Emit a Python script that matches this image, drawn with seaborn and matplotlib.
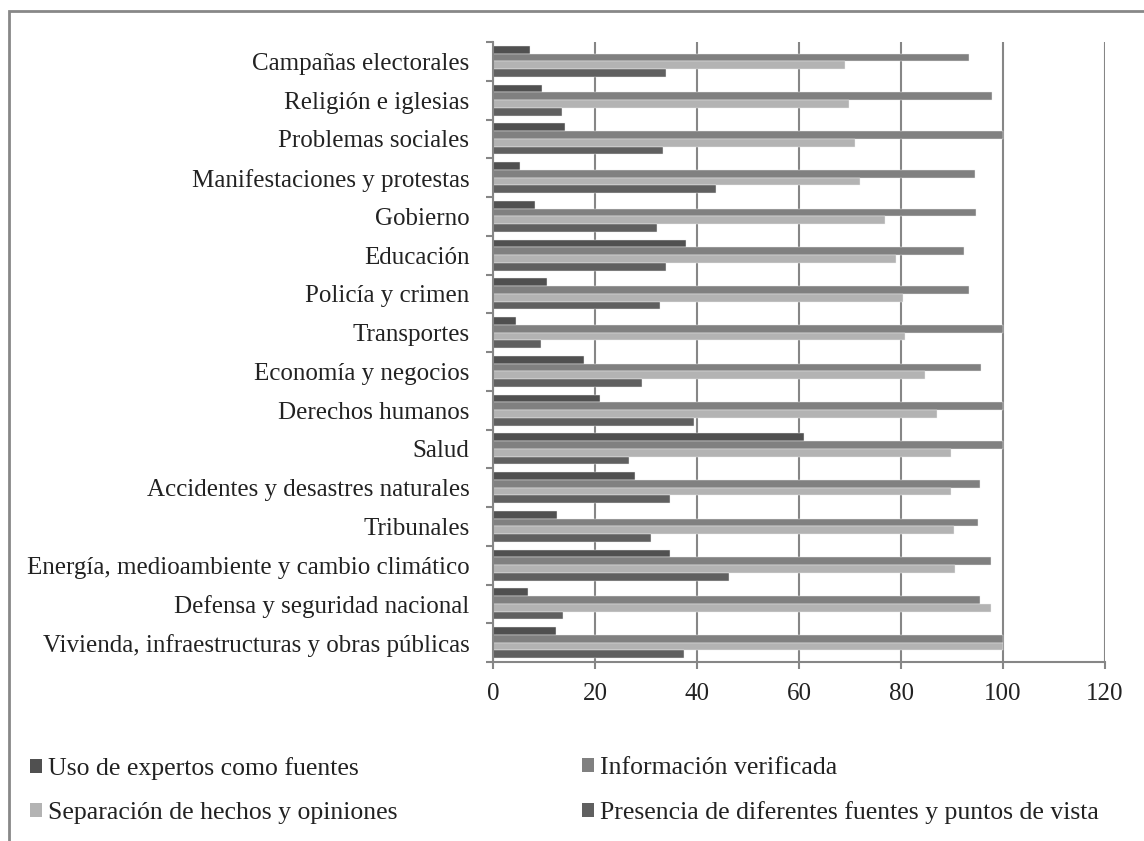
import numpy as np
import pandas as pd
import matplotlib
matplotlib.use("Agg")
import matplotlib.pyplot as plt
import seaborn as sns
from matplotlib.patches import Rectangle, Patch

categories = [
    "Campañas electorales", "Religión e iglesias", "Problemas sociales",
    "Manifestaciones y protestas", "Gobierno", "Educación", "Policía y crimen",
    "Transportes", "Economía y negocios", "Derechos humanos", "Salud",
    "Accidentes y desastres naturales", "Tribunales",
    "Energía, medioambiente y cambio climático", "Defensa y seguridad nacional",
    "Vivienda, infraestructuras y obras públicas",
]
series_names = [
    "Uso de expertos como fuentes", "Información verificada",
    "Separación de hechos y opiniones", "Presencia de diferentes fuentes y puntos de vista",
]
expertos = [7.3, 9.6, 14.2, 5.2, 8.3, 37.8, 10.6, 4.6, 17.8, 21.0, 61.0, 27.8, 12.6, 34.7, 6.9, 12.4]
verificada = [93.3, 97.9, 100, 94.6, 94.8, 92.4, 93.3, 100, 95.6, 100, 100, 95.4, 95.1, 97.7, 95.4, 100]
separacion = [69.0, 69.8, 70.9, 71.9, 76.8, 79.1, 80.4, 80.8, 84.8, 87.0, 89.8, 89.8, 90.3, 90.5, 97.7, 100]
presencia = [33.9, 13.6, 33.3, 43.8, 32.2, 33.9, 32.8, 9.4, 29.2, 39.4, 26.6, 34.7, 30.9, 46.3, 13.8, 37.4]
xticks = [0, 20, 40, 60, 80, 100, 120]

colors = ["#505050", "#808080", "#b3b3b3", "#606060"]

rows = []
for s, vals in zip(series_names, [expertos, verificada, separacion, presencia]):
    for c, v in zip(categories, vals):
        rows.append({"cat": c, "serie": s, "val": v})
df = pd.DataFrame(rows)

sns.set_theme(style="white")
plt.rcParams["font.family"] = ["Liberation Serif", "DejaVu Serif"]

FS = 18
fig = plt.figure(figsize=(11.44, 8.41), dpi=100)
ax = fig.add_axes([493/1144, 1-662/841, (1105-493)/1144, (662-42)/841])

sns.barplot(data=df, y="cat", x="val", hue="serie", order=categories,
            hue_order=series_names, palette=colors, orient="h", width=0.8,
            ax=ax, legend=False, edgecolor="#f0f0f0", linewidth=0.3, saturation=1)

ax.set_xlim(0, 120)
ax.set_ylim(len(categories) - 0.5, -0.5)
ax.set_xticks(xticks)
ax.set_xticklabels([str(t) for t in xticks], fontsize=FS, color="#222222")
ax.set_yticks(range(len(categories)))
ax.set_yticklabels(categories, fontsize=FS, color="#222222")
ax.set_yticks(np.arange(-0.5, len(categories) + 0.5, 1), minor=True)
ax.tick_params(axis="y", which="major", length=0, pad=17)
ax.tick_params(axis="y", which="minor", length=5, width=1.5, color="#868686", left=True)
ax.tick_params(axis="x", which="major", length=5, width=1.5, color="#868686", bottom=True, pad=10)
ax.set_xlabel("")
ax.set_ylabel("")
ax.grid(axis="x", color="#868686", linewidth=1.5)
ax.set_axisbelow(True)
for side in ["top", "right"]:
    ax.spines[side].set_visible(False)
for side in ["left", "bottom"]:
    ax.spines[side].set_color("#868686")
    ax.spines[side].set_linewidth(1.5)

# outer frame
fig.patches.append(Rectangle((9/1144, -0.05), 1.2, 1-11/841+0.05, transform=fig.transFigure,
                             fill=False, edgecolor="#888888", linewidth=2))

h = [Patch(facecolor=c, edgecolor="none") for c in colors]
common = dict(loc="upper left", frameon=False, fontsize=18.5, handlelength=0.45,
              handleheight=0.45, handletextpad=0.25, labelspacing=0.85,
              labelcolor="#222222", borderpad=0, borderaxespad=0)
fig.legend([h[0], h[2]], [series_names[0], series_names[2]],
           bbox_to_anchor=(30/1144, 1-757/841), **common)
fig.legend([h[1], h[3]], [series_names[1], series_names[3]],
           bbox_to_anchor=(582/1144, 1-757/841), **common)

fig.savefig("out.png", dpi=100)
